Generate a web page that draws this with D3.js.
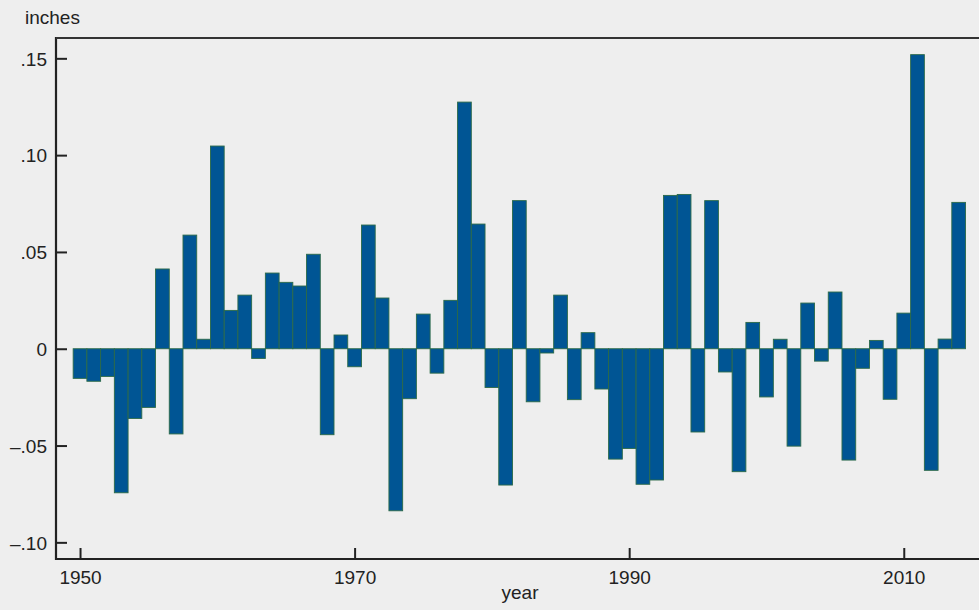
<!DOCTYPE html>
<html>
<head>
<meta charset="utf-8">
<script src="https://cdn.jsdelivr.net/npm/d3@7"></script>
<style>
  html, body { margin: 0; padding: 0; background: #eeeeee; }
  svg { display: block; font-family: "Liberation Sans", Arial, sans-serif; }
</style>
</head>
<body>
<svg id="chart" width="979" height="610"></svg>
<script>
// yearly values (inches), 1950..2014
const years = d3.range(1950, 2015);
const values = [
  -0.0153, -0.0168, -0.0143, -0.0744, -0.0360, -0.0303, 0.0412, -0.0440, 0.0587, 0.0049,
  0.1047, 0.0198, 0.0277, -0.0050, 0.0391, 0.0343, 0.0324, 0.0488, -0.0444, 0.0071,
  -0.0093, 0.0639, 0.0262, -0.0837, -0.0258, 0.0179, -0.0126, 0.0250, 0.1274, 0.0644,
  -0.0200, -0.0704, 0.0765, -0.0274, -0.0022, 0.0277, -0.0263, 0.0083, -0.0208, -0.0570,
  -0.0515, -0.0700, -0.0678, 0.0792, 0.0797, -0.0430, 0.0765, -0.0120, -0.0635, 0.0136,
  -0.0249, 0.0049, -0.0503, 0.0236, -0.0064, 0.0293, -0.0575, -0.0101, 0.0043, -0.0261,
  0.0184, 0.1519, -0.0628, 0.0050, 0.0756
];
const yTicks = [0.15, 0.10, 0.05, 0, -0.05, -0.10];
const yTickLabels = [".15", ".10", ".05", "0", "\u2013.05", "\u2013.10"];
const xTicks = [1950, 1970, 1990, 2010];

const svg = d3.select('#chart');
const plotLeft = 56, plotRight = 979, plotTop = 38, plotBottom = 559;

const x = d3.scaleLinear().domain([1948.25, 2015.48]).range([plotLeft, plotRight]);
const y = d3.scaleLinear().domain([-0.1086, 0.1605]).range([plotBottom, plotTop]);

const data = years.map((yr, i) => ({ year: yr, value: values[i] }));

// bars
svg.append('g')
  .selectAll('rect')
  .data(data)
  .enter().append('rect')
  .attr('x', d => x(d.year - 0.5))
  .attr('width', d => x(d.year + 0.5) - x(d.year - 0.5))
  .attr('y', d => y(Math.max(0, d.value)))
  .attr('height', d => Math.abs(y(d.value) - y(0)))
  .attr('fill', '#005594')
  .attr('stroke', '#2c6a48')
  .attr('stroke-width', 0.9);

// left axis, ticks pointing inward
const yAxis = d3.axisLeft(y)
  .tickValues(yTicks)
  .tickFormat((d, i) => yTickLabels[i])
  .tickSizeInner(-11)
  .tickSizeOuter(0);

const gy = svg.append('g')
  .attr('transform', `translate(${plotLeft},0)`)
  .call(yAxis);
gy.select('.domain').remove();
gy.selectAll('.tick line').attr('stroke', '#222').attr('stroke-width', 2);
gy.selectAll('.tick text')
  .attr('fill', '#222')
  .style('font-size', '19px')
  .attr('x', -9)
  .attr('dy', '0.36em');

// bottom axis, ticks pointing up
const xAxis = d3.axisBottom(x)
  .tickValues(xTicks)
  .tickFormat(d3.format('d'))
  .tickSizeInner(-11)
  .tickSizeOuter(0);

const gx = svg.append('g')
  .attr('transform', `translate(0,${plotBottom})`)
  .call(xAxis);
gx.select('.domain').remove();
gx.selectAll('.tick line').attr('stroke', '#222').attr('stroke-width', 2);
gx.selectAll('.tick text')
  .attr('fill', '#222')
  .style('font-size', '19px')
  .attr('y', 25)
  .attr('dy', 0);

// frame lines
svg.append('line')
  .attr('x1', plotLeft).attr('x2', plotLeft).attr('y1', plotTop - 1).attr('y2', plotBottom + 1)
  .attr('stroke', '#222').attr('stroke-width', 2.2);
svg.append('line')
  .attr('x1', plotLeft).attr('x2', plotRight).attr('y1', plotTop).attr('y2', plotTop)
  .attr('stroke', '#333').attr('stroke-width', 2);
svg.append('line')
  .attr('x1', plotLeft).attr('x2', plotRight).attr('y1', plotBottom).attr('y2', plotBottom)
  .attr('stroke', '#222').attr('stroke-width', 2.2);

// labels
svg.append('text')
  .attr('x', 25).attr('y', 24)
  .attr('fill', '#222')
  .style('font-size', '19px')
  .text('inches');

svg.append('text')
  .attr('x', 520).attr('y', 599)
  .attr('text-anchor', 'middle')
  .attr('fill', '#222')
  .style('font-size', '19px')
  .text('year');
</script>
</body>
</html>
